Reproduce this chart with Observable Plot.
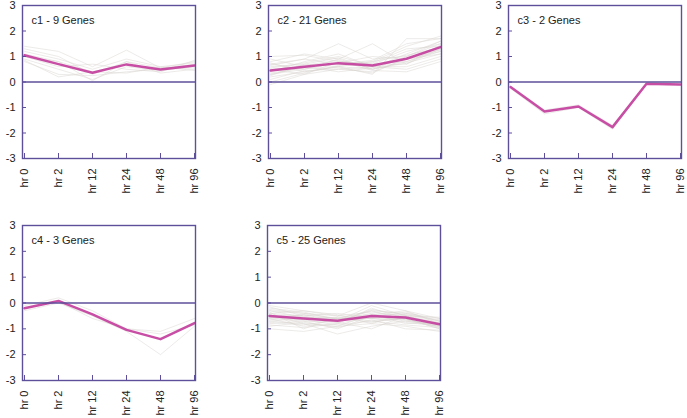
<!DOCTYPE html>
<html><head><meta charset="utf-8">
<script src="https://cdn.jsdelivr.net/npm/d3@7"></script>
<script src="https://cdn.jsdelivr.net/npm/@observablehq/plot@0.6"></script>
<style>
html,body{margin:0;padding:0;background:#fff;}
#chart{position:relative;width:687px;height:418px;overflow:hidden;font-family:"Liberation Sans",Arial,sans-serif;}
#chart svg{position:absolute;}
</style></head><body><div id="chart"></div>
<script>
const timepoints = ["hr 0", "hr 2", "hr 12", "hr 24", "hr 48", "hr 96"];
const yTicks = [-3, -2, -1, 0, 1, 2, 3];
const clusterNames = ["c1", "c2", "c3", "c4", "c5"];
const geneCounts = [9, 21, 2, 3, 25];

const meanC1 = [1.05, 0.7, 0.36, 0.69, 0.49, 0.65];
const meanC2 = [0.45, 0.6, 0.74, 0.65, 0.91, 1.37];
const meanC3 = [-0.2, -1.16, -0.96, -1.77, -0.07, -0.1];
const meanC4 = [-0.2, 0.08, -0.44, -1.04, -1.4, -0.78];
const meanC5 = [-0.5, -0.6, -0.69, -0.5, -0.56, -0.82];

const genesC1 = [
  [1.1, 0.8, 0.4, 0.7, 0.5, 0.7],
  [1.4, 1.2, 0.6, 1.25, 0.55, 0.8],
  [0.9, 0.5, 0.1, 0.6, 0.45, 0.6],
  [1.2, 0.9, 0.5, 0.9, 0.6, 0.75],
  [0.8, 0.3, 0.25, 0.4, 0.5, 0.55],
  [1.0, 0.6, 0.7, 0.5, 0.4, 0.85],
  [1.3, 1.0, 0.3, 0.8, 0.35, 0.5],
  [0.85, 0.2, 0.4, 0.35, 0.6, 0.45],
  [1.0, 0.8, 0.05, 0.8, 0.55, 0.65]
];
const genesC2 = [
  [0.5, 0.6, 0.7, 0.6, 0.9, 1.4],
  [1.0, 1.05, 0.8, 0.7, 1.2, 1.5],
  [0.2, 0.4, 0.6, 0.5, 0.8, 1.2],
  [0.7, 0.9, 1.5, 0.9, 1.0, 1.6],
  [0.3, 0.5, 0.9, 1.5, 0.7, 1.3],
  [-0.1, 0.3, 0.5, 0.4, 0.9, 1.1],
  [0.6, 0.7, 0.6, 0.3, 1.7, 1.7],
  [0.4, 0.8, 1.1, 0.6, 0.6, 1.0],
  [0.9, 0.6, 0.7, 0.8, 1.4, 1.8],
  [0.1, 0.45, 0.5, 0.6, 0.5, 0.9],
  [0.8, 1.1, 0.9, 0.5, 1.0, 1.5],
  [0.5, 0.3, 0.8, 0.7, 0.8, 1.3],
  [0.3, 0.6, 0.4, 0.55, 1.1, 1.6],
  [0.7, 0.5, 0.75, 1.0, 0.9, 1.2],
  [0.45, 0.65, 0.85, 0.45, 0.4, 0.8],
  [0.0, 0.35, 0.65, 0.75, 1.3, 1.4],
  [0.55, 0.75, 1.0, 0.65, 0.7, 1.45],
  [0.35, 0.55, 0.55, 0.35, 0.95, 1.25],
  [0.65, 0.9, 0.7, 0.85, 1.5, 1.7],
  [0.25, 0.7, 0.95, 0.5, 0.75, 1.1],
  [0.75, 0.4, 0.6, 0.8, 1.05, 1.35]
];
const genesC3 = [
  [-0.15, -1.1, -0.9, -1.7, -0.05, -0.08],
  [-0.25, -1.25, -1.0, -1.85, -0.1, -0.12]
];
const genesC4 = [
  [-0.1, 0.2, -0.3, -1.0, -1.1, -0.6],
  [-0.3, 0.0, -0.5, -1.1, -2.0, -0.9],
  [-0.2, 0.05, -0.6, -1.0, -1.2, -0.85]
];
const genesC5 = [
  [-0.5, -0.6, -0.7, -0.5, -0.55, -0.8],
  [-0.1, -0.3, -0.5, 0.0, -0.3, -0.6],
  [-1.0, -1.1, -0.9, -0.8, -0.9, -1.1],
  [-0.3, -0.4, -0.6, -0.3, -0.4, -0.7],
  [-0.7, -0.8, -1.2, -0.9, -0.7, -0.9],
  [-0.4, -0.5, -0.4, -0.6, -0.5, -0.8],
  [-0.6, -0.9, -0.8, -0.2, -0.6, -1.0],
  [-0.2, -0.35, -0.65, -0.4, -0.8, -0.75],
  [-0.8, -0.7, -0.75, -1.0, -0.5, -0.85],
  [-0.45, -0.55, -0.6, -0.55, -0.35, -0.7],
  [-0.55, -0.65, -0.85, -0.7, -0.6, -0.95],
  [-0.35, -1.0, -0.55, -0.45, -0.45, -0.65],
  [-0.65, -0.45, -0.7, -0.3, -0.65, -0.9],
  [-0.9, -0.75, -0.95, -0.65, -1.0, -1.05],
  [-0.25, -0.4, -0.5, -0.35, -0.5, -0.55],
  [-0.5, -0.6, -0.6, -0.75, -0.55, -0.8],
  [-0.75, -0.85, -0.65, -0.6, -0.75, -0.9],
  [-0.15, -0.5, -0.75, -0.25, -0.45, -0.7],
  [-0.6, -0.7, -1.0, -0.5, -0.7, -0.85],
  [-0.4, -0.3, -0.45, -0.8, -0.4, -0.6],
  [-0.85, -0.95, -0.8, -0.55, -0.6, -1.0],
  [-0.3, -0.55, -0.7, -0.1, -0.5, -0.75],
  [-0.7, -0.6, -0.55, -0.7, -0.85, -0.95],
  [-0.45, -0.8, -0.9, -0.45, -0.3, -0.8],
  [-0.55, -0.45, -0.6, -0.6, -0.65, -0.85]
];

const means = [meanC1, meanC2, meanC3, meanC4, meanC5];
const genes = [genesC1, genesC2, genesC3, genesC4, genesC5];

// layout (pixel placement of each small panel)
const layout = [
  {left: 0, top: 0, boxH: 153, mb: 50},
  {left: 246, top: 0, boxH: 153, mb: 50},
  {left: 486, top: 0, boxH: 153, mb: 50},
  {left: 0, top: 220, boxH: 155, mb: 38},
  {left: 245, top: 220, boxH: 155, mb: 38}
];

const frameColor = "#5e4f9a";
const chart = document.getElementById("chart");

clusterNames.forEach((name, k) => {
  const L = layout[k];
  const geneRows = genes[k].flatMap((g, i) => g.map((v, j) => ({gene: i, t: timepoints[j], v})));
  const meanRows = means[k].map((v, j) => ({t: timepoints[j], v}));
  const title = `${name} - ${geneCounts[k]} Genes`;
  const mt = 5;
  const svg = Plot.plot({
    width: 201,
    height: mt + L.boxH + L.mb,
    marginLeft: 22, marginRight: 6, marginTop: mt, marginBottom: L.mb,
    style: {fontFamily: '"Liberation Sans", Arial, sans-serif', fontSize: "11px", color: "#222", background: "transparent", overflow: "visible"},
    x: {type: "point", domain: timepoints, padding: 0, label: null},
    y: {domain: [-3, 3], label: null},
    marks: [
      Plot.line(geneRows, {x: "t", y: "v", z: "gene", stroke: "#d6d3cf", strokeOpacity: 0.45, strokeWidth: 1}),
      Plot.line(meanRows, {x: "t", y: "v", stroke: "#c4449f", strokeWidth: 2.5, strokeOpacity: 0.95}),
      Plot.ruleY([0], {stroke: frameColor, strokeWidth: 1.3}),
      Plot.frame({stroke: frameColor, strokeWidth: 1.4}),
      Plot.axisY(yTicks, {tickSize: -4, tickPadding: 11, tickFormat: d => String(d), stroke: frameColor, fill: "#222", fontSize: 11}),
      Plot.axisX(timepoints, {tickSize: -5, tickPadding: 15, tickRotate: -90, textAnchor: "end", lineAnchor: "middle", stroke: frameColor, fill: "#222", fontSize: 11}),
      Plot.text([title], {frameAnchor: "top-left", dx: 9, dy: 11, fontSize: 11, fill: "#222", textAnchor: "start"})
    ]
  });
  svg.style.left = L.left + "px";
  svg.style.top = L.top + "px";
  chart.appendChild(svg);
});
</script>
</body></html>
